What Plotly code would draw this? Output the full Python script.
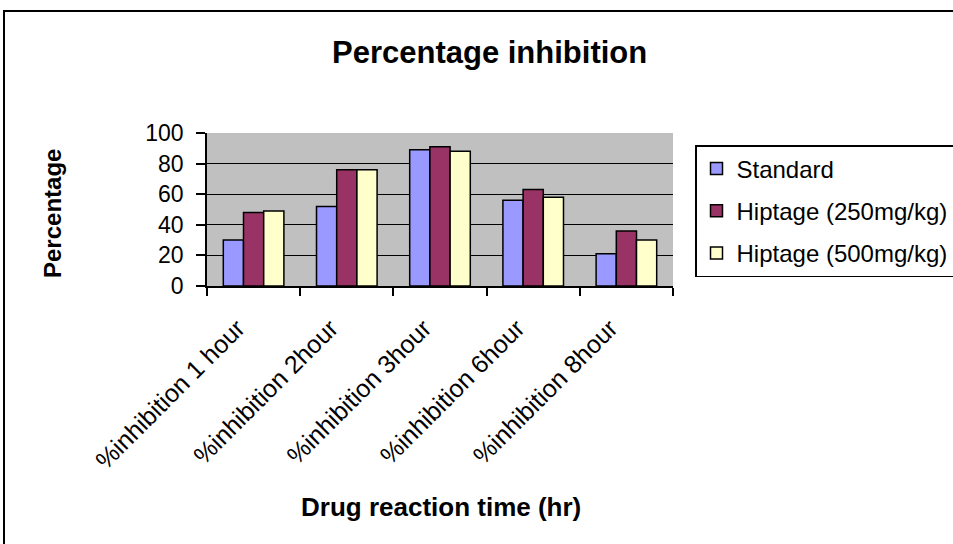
import plotly.graph_objects as go

# Data
categories = ["%inhibition 1 hour", "%inhibition 2hour", "%inhibition 3hour",
              "%inhibition 6hour", "%inhibition 8hour"]
standard = [30, 52, 89, 56, 21]
hiptage_250 = [48, 76, 91, 63, 36]
hiptage_500 = [49, 76, 88, 58, 30]
series_names = ["Standard", "Hiptage (250mg/kg)", "Hiptage (500mg/kg)"]
series_colors = ["#9999FF", "#993366", "#FFFFCC"]

W, H = 953, 544
L, R, T, B = 207, 280, 133, 258
plot_w = W - L - R
plot_h = H - T - B

def px_x(px):
    return (px - L) / plot_w

def px_y(py):
    return (H - B - py) / plot_h

fig = go.Figure()
for i, (name, vals, col) in enumerate(zip(series_names,
                                          [standard, hiptage_250, hiptage_500],
                                          series_colors)):
    fig.add_trace(go.Bar(
        x=categories, y=vals, name=name, legendgroup=str(i),
        marker=dict(color=col, line=dict(color="black", width=1.5)),
    ))

font_family = "Liberation Sans, Arial, sans-serif"

fig.update_layout(
    width=W, height=H,
    margin=dict(l=L, r=R, t=T, b=B, autoexpand=False),
    paper_bgcolor="white",
    plot_bgcolor="#C0C0C0",
    barmode="group",
    bargap=0.35,
    bargroupgap=0,
    font=dict(family=font_family, color="black"),
    showlegend=True,
    legend=dict(
        x=px_x(695), y=px_y(145), xanchor="left", yanchor="top",
        bgcolor="white", bordercolor="black", borderwidth=1.5,
        font=dict(size=24, family=font_family),
        traceorder="grouped", tracegroupgap=8,
    ),
    xaxis=dict(
        type="category",
        showline=True, linecolor="black", linewidth=1.5,
        ticks="outside", tickson="boundaries", ticklen=8,
        tickcolor="black", tickwidth=1.5,
        tickangle=-45, tickfont=dict(size=25),
        ticklabelstandoff=16, ticklabelshift=-16,
        showgrid=False,
    ),
    yaxis=dict(
        range=[0, 100], dtick=20,
        showline=True, linecolor="black", linewidth=1.5,
        ticks="outside", ticklen=9, tickcolor="black", tickwidth=1.5,
        tickfont=dict(size=23), ticklabelstandoff=8,
        showgrid=True, gridcolor="black", gridwidth=1.2,
        zeroline=False,
    ),
    annotations=[
        dict(text="<b>Percentage inhibition</b>", xref="paper", yref="paper",
             x=px_x(489), y=px_y(52), showarrow=False,
             xanchor="center", yanchor="middle", font=dict(size=31)),
        dict(text="<b>Drug reaction time (hr)</b>", xref="paper", yref="paper",
             x=px_x(441), y=px_y(507), showarrow=False,
             xanchor="center", yanchor="middle", font=dict(size=26)),
        dict(text="<b>Percentage</b>", xref="paper", yref="paper",
             x=px_x(52), y=px_y(214), showarrow=False, textangle=-90,
             xanchor="center", yanchor="middle", font=dict(size=24)),
    ],
    shapes=[
        dict(type="rect", xref="paper", yref="paper",
             x0=px_x(4), x1=px_x(960), y0=px_y(560), y1=px_y(11),
             line=dict(color="black", width=2), fillcolor="rgba(0,0,0,0)",
             layer="above"),
    ],
)

fig.write_html("out.html")
